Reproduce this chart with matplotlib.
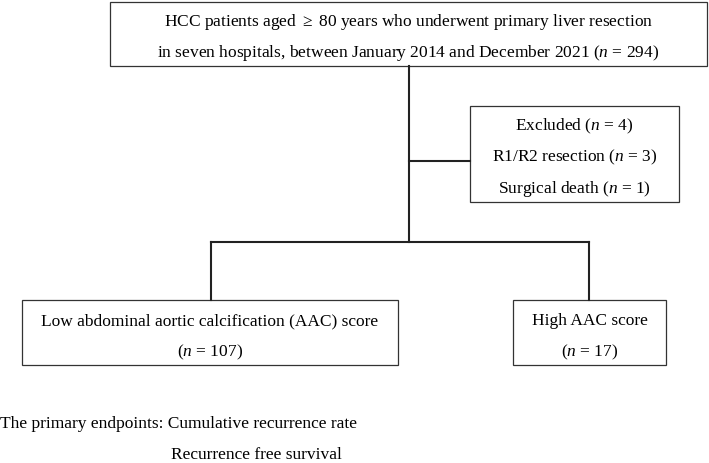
import matplotlib
matplotlib.use("Agg")
from matplotlib import pyplot as plt
from matplotlib.patches import Rectangle

plt.rcParams['font.family'] = 'Liberation Serif'
plt.rcParams['mathtext.fontset'] = 'custom'
plt.rcParams['mathtext.rm'] = 'Liberation Serif'
plt.rcParams['mathtext.it'] = 'Liberation Serif:italic'

# flowchart texts
top_lines = [r"HCC patients aged $\geq$ 80 years who underwent primary liver resection",
             r"in seven hospitals, between January 2014 and December 2021 ($\mathit{n}$ = 294)"]
excl_lines = [r"Excluded ($\mathit{n}$ = 4)", r"R1/R2 resection ($\mathit{n}$ = 3)", r"Surgical death ($\mathit{n}$ = 1)"]
low_lines = ["Low abdominal aortic calcification (AAC) score", r"($\mathit{n}$ = 107)"]
high_lines = ["High AAC score", r"($\mathit{n}$ = 17)"]
endpoints = ["Cumulative recurrence rate", "Recurrence free survival"]

FS = 12.5

fig = plt.figure(figsize=(7.09, 4.63), dpi=100)
ax = fig.add_axes([0, 0, 1, 1])
ax.set_xlim(0, 709)
ax.set_ylim(463, 0)
ax.axis('off')

def box(x0, y0, x1, y1, lines, ys):
    ax.add_patch(Rectangle((x0, y0), x1 - x0, y1 - y0, fill=False, lw=0.9, ec='#333333'))
    for t, y in zip(lines, ys):
        ax.text((x0 + x1) / 2, y, t, ha='center', va='center', fontsize=FS)

box(110, 1.5, 707, 66, top_lines, [22, 53])
box(470, 106, 679, 202, excl_lines, [126, 157, 189])
box(22, 300, 398, 365, low_lines, [321, 352])
box(513, 300, 666, 365, high_lines, [321, 352])

line_kw = dict(color='#222222', lw=1.5)
ax.plot([409, 409], [66, 242], **line_kw)
ax.plot([409, 470], [161, 161], **line_kw)
ax.plot([211, 589], [242, 242], **line_kw)
ax.plot([211, 211], [242, 300], **line_kw)
ax.plot([589, 589], [242, 300], **line_kw)

ax.text(0, 424, "The primary endpoints: " + endpoints[0], ha='left', va='center', fontsize=FS)
ax.text(171, 455, endpoints[1], ha='left', va='center', fontsize=FS)

fig.savefig("out.png", dpi=100)
